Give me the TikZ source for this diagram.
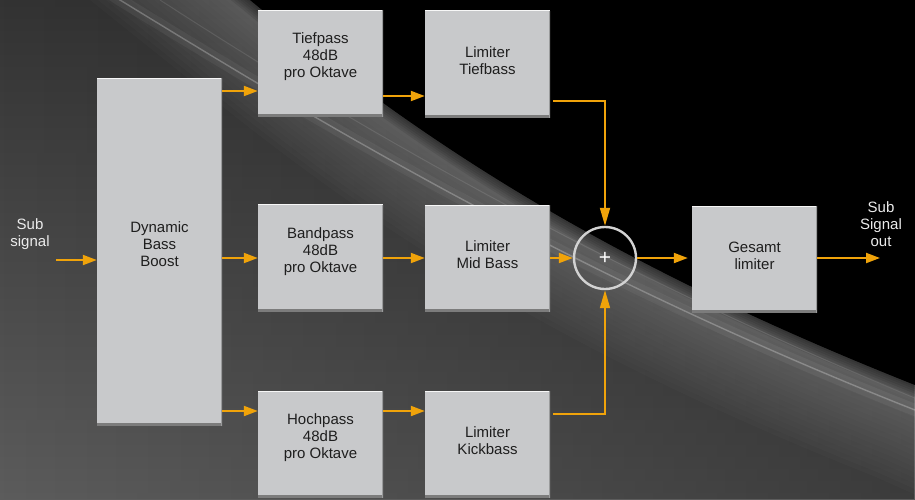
\documentclass[tikz,border=0pt]{standalone}
\usepackage{fontspec}
\usepackage{tikz}
\usetikzlibrary{arrows.meta,fadings}
\newfontfamily\diagfont{Liberation Sans}
\definecolor{bgDark}{HTML}{333333}
\definecolor{bgLight}{HTML}{5C5C5C}
\definecolor{boxGray}{HTML}{C8C9CB}
\definecolor{boxEdge}{HTML}{7C7C7C}
\definecolor{boxText}{HTML}{1E1E1E}
\definecolor{sigOrange}{HTML}{F0A30A}
\definecolor{ringGray}{HTML}{D2D2D2}
\tikzset{
  blk/.style={fill=boxGray, minimum width=125pt, minimum height=107pt, inner sep=2pt,
    align=center, text=boxText, font=\diagfont\fontsize{15}{17}\selectfont,
    path picture={
      \fill[boxEdge] (path picture bounding box.south west) rectangle ([yshift=3pt]path picture bounding box.south east);
      \draw[white!85!boxGray, line width=1.2pt] (path picture bounding box.north west) -- (path picture bounding box.north east);
      \draw[boxEdge!60!boxGray, line width=1.2pt] (path picture bounding box.south east) -- (path picture bounding box.north east);
    }},
  twoline/.style={text height=24pt, text depth=3.3pt},
  threeline/.style={text height=32pt, text depth=3.3pt},
  lbl/.style={align=center, text=white!92!black, font=\diagfont\fontsize{15}{17}\selectfont},
  arr/.style={sigOrange, line width=2pt, -{Triangle[length=14pt,width=10pt]}},
  arrv/.style={sigOrange, line width=1.8pt, -{Triangle[length=18pt,width=10pt]}}
}
\begin{document}
\begin{tikzpicture}[x=1pt, y=-1pt]
\useasboundingbox (0,0) rectangle (915,499);
\shade[top color=bgDark, bottom color=bgLight] (0,0) rectangle (915,499);
\fill[black, fill opacity=.35, path fading=west] (0,0) rectangle (915,499);
\foreach \w in {10,20,...,200}
  \draw[white, opacity=.016, line width=\w pt] (50,-160) -- (250,0) .. controls (420,140) and (600,260) .. (915,385) -- (1060,450);
\fill[black] (250,0) .. controls (420,140) and (600,260) .. (915,385) -- (1060,450) -- (1060,-160) -- (50,-160) -- cycle;
\foreach \w in {4,8,...,24}
  \draw[black, opacity=.09, line width=\w pt] (50,-160) -- (250,0) .. controls (420,140) and (600,260) .. (915,385) -- (1060,450);
\draw[white, opacity=.05, line width=12pt] (60,-40) -- (120,0) .. controls (300,110) and (560,270) .. (915,410) -- (990,440);
\draw[white, opacity=.25, line width=1.4pt] (60,-40) -- (120,0) .. controls (300,110) and (560,270) .. (915,410);
\draw[white, opacity=.10, line width=1pt] (160,0) .. controls (330,110) and (580,260) .. (915,398);

\node[blk, threeline, minimum height=348pt] (dbb) at (159.5,252) {Dynamic\\Bass\\Boost};
\node[blk, threeline] (tp) at (320.5,63.5) {Tiefpass\\48dB\\pro Oktave};
\node[blk, threeline] (bp) at (320.5,258) {Bandpass\\48dB\\pro Oktave};
\node[blk, threeline] (hp) at (320.5,444.5) {Hochpass\\48dB\\pro Oktave};
\node[blk, twoline] (lt) at (487.5,64) {Limiter\\Tiefbass};
\node[blk, twoline] (lm) at (487.5,258.5) {Limiter\\Mid Bass};
\node[blk, twoline] (lk) at (487.5,444.5) {Limiter\\Kickbass};
\node[circle, draw=ringGray, line width=2.4pt, minimum size=62pt, inner sep=0pt, text=white,
  font=\diagfont\fontsize{21}{21}\selectfont] (sum) at (605,258) {+};
\node[blk, twoline] (ges) at (754.5,259.5) {Gesamt\\limiter};
\node[lbl] (sublbl) at (30,234) {Sub\\signal};
\node[lbl] (outlbl) at (881,224) {Sub\\Signal\\out};
\coordinate (inp) at (56,260);
\coordinate (outp) at (880,258);

\draw[arr] (inp) -- (inp -| dbb.west);
\draw[arr] ([yshift=-27.5pt]tp.west -| dbb.east) -- ([yshift=-27.5pt]tp.west);
\draw[arr] (bp.west -| dbb.east) -- (bp.west);
\draw[arr] ([yshift=33.5pt]hp.west -| dbb.east) -- ([yshift=33.5pt]hp.west);
\draw[arr] ([yshift=-32.5pt]tp.east) -- ([yshift=-32.5pt]tp.east -| lt.west);
\draw[arr] (bp.east) -- (bp.east -| lm.west);
\draw[arr] ([yshift=33.5pt]hp.east) -- ([yshift=33.5pt]hp.east -| lk.west);
\draw[arrv] ([xshift=3pt,yshift=-37pt]lt.east) -| (sum.north);
\draw[arr] (sum.west -| lm.east) -- (sum.west);
\draw[arrv] ([xshift=3pt,yshift=30.5pt]lk.east) -| (sum.south);
\draw[arr, shorten >=4pt] (sum.east) -- (sum.east -| ges.west);
\draw[arr] (ges.east |- outp) -- (outp);
\end{tikzpicture}
\end{document}
